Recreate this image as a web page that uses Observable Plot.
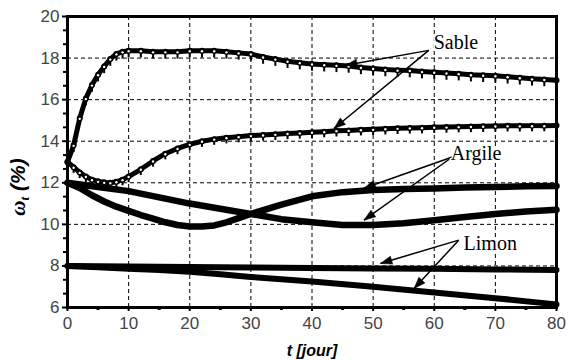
<!DOCTYPE html>
<html><head><meta charset="utf-8">
<script src="https://cdn.jsdelivr.net/npm/d3@7"></script>
<script src="https://cdn.jsdelivr.net/npm/@observablehq/plot@0.6"></script>
<style>html,body{margin:0;padding:0;background:#fff} svg{display:block}</style>
</head><body><div id="chart"></div>
<script>
// ---- data ----
const tSable1 = [0,1,2,3,4,5,6,7,8,9,10,12,14,16,18,20,22,24,26,28,30,32,34,36,38,40,42,44,46,48,50,52,54,56,58,60,62,64,66,68,70,72,74,76,78,80];
const vSable1 = [13.0,13.8,15.1,16.05,16.7,17.2,17.6,17.95,18.2,18.3,18.35,18.35,18.3,18.3,18.3,18.35,18.35,18.35,18.3,18.25,18.2,18.05,17.95,17.85,17.78,17.72,17.68,17.65,17.62,17.55,17.5,17.45,17.42,17.4,17.35,17.32,17.28,17.25,17.2,17.17,17.15,17.1,17.05,17.0,16.97,16.93];
const tSable2 = [0,1,2,3,4,5,6,7,8,9,10,12,14,16,18,20,22,24,26,28,30,32,34,36,38,40,42,44,46,48,50,52,54,56,58,60,62,64,66,68,70,72,74,76,78,80];
const vSable2 = [13.0,12.75,12.5,12.3,12.15,12.07,12.02,12.0,12.05,12.15,12.3,12.65,13.05,13.4,13.65,13.85,14.0,14.1,14.17,14.22,14.27,14.3,14.33,14.37,14.4,14.43,14.46,14.5,14.52,14.55,14.57,14.6,14.62,14.64,14.65,14.67,14.68,14.7,14.71,14.72,14.73,14.74,14.74,14.75,14.75,14.76];
const tArgile1 = [0,5,10,15,20,25,30,35,40,45,50,55,60,65,70,75,80];
const vArgile1 = [12.0,11.8,11.6,11.3,11.0,10.75,10.5,10.95,11.35,11.55,11.65,11.7,11.73,11.77,11.8,11.83,11.85];
const tArgile2 = [0,2,4,6,8,10,12,14,16,18,20,22,24,26,28,30,32,35,40,45,50,55,60,65,70,75,80];
const vArgile2 = [12.0,11.75,11.4,11.1,10.85,10.65,10.45,10.28,10.1,9.97,9.9,9.9,9.95,10.1,10.3,10.5,10.4,10.25,10.1,9.97,9.97,10.05,10.2,10.35,10.5,10.62,10.7];
const tLimon1 = [0,10,20,30,40,50,60,70,80];
const vLimon1 = [8.0,7.97,7.95,7.93,7.9,7.88,7.86,7.83,7.8];
const tLimon2 = [0,5,10,15,20,25,30,40,50,60,70,80];
const vLimon2 = [8.0,7.94,7.87,7.8,7.72,7.6,7.47,7.25,7.0,6.72,6.45,6.15];

const labelNames = ["Sable","Argile","Limon"];
const labelX = [59.9, 62.7, 64.8];
const labelY = [18.76, 13.41, 9.06];
const arrowX1 = [59.1, 59.1, 62.96, 62.96, 64.0, 64.0];
const arrowY1 = [18.37, 18.37, 13.24, 13.24, 9.24, 9.24];
const arrowX2 = [45.5, 43.6, 48.5, 48.5, 51.2, 56.7];
const arrowY2 = [17.65, 14.61, 11.74, 10.2, 8.12, 6.91];

const xTicks = [0,10,20,30,40,50,60,70,80];
const xMinor = [5,15,25,35,45,55,65,75];
const yTicks = [6,8,10,12,14,16,18,20];
const yMinor = [6.667,7.333,8.667,9.333,10.667,11.333,12.667,13.333,14.667,15.333,16.667,17.333,18.667,19.333];

// ---- build tables ----
const zip = (t, v) => t.map((x, i) => ({t: x, v: v[i]}));
const sable1 = zip(tSable1, vSable1), sable2 = zip(tSable2, vSable2);
const argile1 = zip(tArgile1, vArgile1), argile2 = zip(tArgile2, vArgile2);
const limon1 = zip(tLimon1, vLimon1), limon2 = zip(tLimon2, vLimon2);
const labels = labelNames.map((n, i) => ({n, x: labelX[i], y: labelY[i]}));
const arrows = arrowX1.map((x, i) => ({x1: x, y1: arrowY1[i], x2: arrowX2[i], y2: arrowY2[i]}));

const headSymbol = {draw(ctx, size) { const l = Math.sqrt(size); ctx.moveTo(0, 0); ctx.lineTo(-l * 0.36, l); ctx.lineTo(l * 0.36, l); ctx.closePath(); }};
// small error-bar-like tick hanging below a data point
const barSymbol = {draw(ctx, size) { const l = Math.sqrt(size); ctx.rect(-1, 0, 2, l); }};

function build(heads) {
  const marks = [
    Plot.gridX([10,20,30,40,50,60,70], {stroke: "#000", strokeOpacity: 1, strokeWidth: 1, strokeDasharray: "4,3"}),
    Plot.gridY([8,10,12,14,16,18], {stroke: "#000", strokeOpacity: 1, strokeWidth: 1, strokeDasharray: "4,3"}),
    Plot.axisY({ticks: yTicks, tickSize: 5, tickPadding: 3, label: null, strokeWidth: 2, fill: "#444", fontSize: 17}),
    Plot.axisY({ticks: yMinor, tickSize: 4, tickFormat: () => "", label: null, strokeWidth: 2}),
    Plot.axisX({ticks: xTicks, tickSize: 4, tickPadding: 5, label: null, strokeWidth: 2, fill: "#444", fontSize: 17}),
    Plot.axisX({ticks: xMinor, tickSize: 3, tickFormat: () => "", label: null, strokeWidth: 3}),
    Plot.line(limon1, {x: "t", y: "v", stroke: "#000", strokeWidth: 6}),
    Plot.line(limon2, {x: "t", y: "v", stroke: "#000", strokeWidth: 6}),
    Plot.line(argile1, {x: "t", y: "v", stroke: "#000", strokeWidth: 6.5}),
    Plot.line(argile2, {x: "t", y: "v", stroke: "#000", strokeWidth: 6.5}),
    Plot.dot(sable1, {x: "t", y: "v", symbol: barSymbol, r: 3.8, fill: "#000", stroke: "none"}),
    Plot.dot(sable2, {x: "t", y: "v", symbol: barSymbol, r: 3.2, fill: "#000", stroke: "none"}),
    Plot.line(sable1, {x: "t", y: "v", stroke: "#000", strokeWidth: 5}),
    Plot.line(sable2, {x: "t", y: "v", stroke: "#000", strokeWidth: 5}),
    Plot.dot(sable1, {x: "t", y: "v", r: 3, fill: "#000", stroke: "none"}),
    Plot.dot(sable2, {x: "t", y: "v", r: 3, fill: "#000", stroke: "none"}),
    Plot.dot(sable1, {x: "t", y: "v", r: 1.2, fill: "#fff", stroke: "none", dy: 0.5}),
    Plot.dot(sable2, {x: "t", y: "v", r: 1.2, fill: "#fff", stroke: "none", dy: 0.5}),
    Plot.link(arrows, {x1: "x1", y1: "y1", x2: "x2", y2: "y2", stroke: "#000", strokeWidth: 1.5}),
    Plot.text(labels, {x: "x", y: "y", text: "n", textAnchor: "start", fontFamily: "Liberation Serif", fontSize: 20, fill: "#000", stroke: "#fff", strokeWidth: 3, paintOrder: "stroke"}),
    Plot.frame({stroke: "#000", strokeWidth: 3})
  ];
  if (heads) marks.push(Plot.dot(heads, {x: "x", y: "y", rotate: "a", symbol: headSymbol, r: 6.5, fill: "#000", stroke: "#000", strokeWidth: 0.5}));
  return Plot.plot({
    width: 568, height: 360,
    marginLeft: 67, marginRight: 12, marginTop: 16, marginBottom: 53,
    style: {fontFamily: "Liberation Sans, Arial, sans-serif", fontSize: "17px", background: "#fff"},
    x: {type: "linear", domain: [0, 80], axis: null},
    y: {type: "linear", domain: [6, 20], axis: null},
    marks
  });
}

// first pass to get scales for arrowhead rotation
const pre = build(null);
const sx = pre.scale("x"), sy = pre.scale("y");
const heads = arrows.map(d => {
  const dx = sx.apply(d.x2) - sx.apply(d.x1), dy = sy.apply(d.y2) - sy.apply(d.y1);
  return {x: d.x2, y: d.y2, a: Math.atan2(dy, dx) * 180 / Math.PI + 90};
});
const chart = build(heads);
document.getElementById("chart").appendChild(chart);

const svg = d3.select(chart);
// x axis title
svg.append("text").attr("x", 312).attr("y", 356).attr("text-anchor", "middle")
  .attr("font-family", "Liberation Sans, Arial, sans-serif").attr("font-size", 16)
  .attr("font-weight", "bold").attr("font-style", "italic").attr("fill", "#000").text("t [jour]");
// y axis title with subscript
const yl = svg.append("text").attr("transform", "translate(25,187) rotate(-90)").attr("text-anchor", "middle")
  .attr("font-weight", "bold").attr("font-style", "italic").attr("fill", "#000").attr("font-size", 21);
yl.append("tspan").attr("font-family", "Liberation Serif, serif").text("ω");
yl.append("tspan").attr("font-family", "Liberation Serif, serif").attr("font-size", 13).attr("dy", 4).text("t");
yl.append("tspan").attr("font-family", "Liberation Sans, Arial, sans-serif").attr("dy", -4).text(" (%)");
</script>
</body></html>
